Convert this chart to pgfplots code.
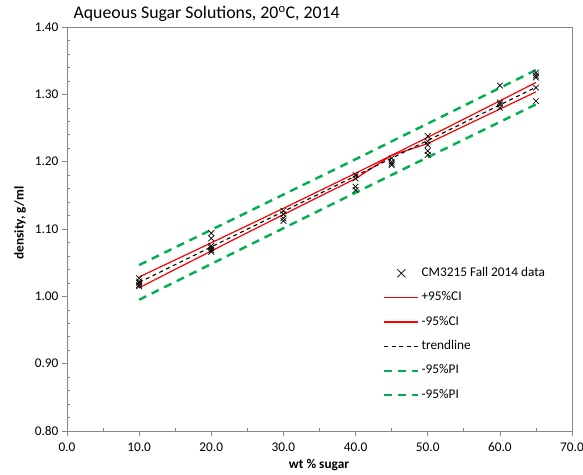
\documentclass[border=0pt]{standalone}
\usepackage{fontspec}
\setmainfont{Carlito}
\usepackage{pgfplots}
\pgfplotsset{compat=1.18}
\definecolor{pigreen}{RGB}{0,176,80}
\definecolor{cired}{RGB}{255,0,0}
\definecolor{axgray}{RGB}{134,134,134}
\pgfplotsset{
  marklegend/.style={legend image code/.code={\draw[black, line width=0.7pt] (13pt,-4pt) -- (21pt,4pt) (13pt,4pt) -- (21pt,-4pt);}},
  redlegend/.style={legend image code/.code={\draw[cired, line width=1.2pt] (0pt,0pt) -- (34pt,0pt);}},
  trendlegend/.style={legend image code/.code={\draw[black, line width=1.1pt, dash pattern=on 4pt off 3.5pt] (0pt,0pt) -- (34pt,0pt);}},
  greenlegend/.style={legend image code/.code={\draw[pigreen, line width=2.4pt, dash pattern=on 8pt off 6pt] (0pt,0pt) -- (34pt,0pt);}}}
\begin{document}
\begin{tikzpicture}[font=\fontsize{13.3}{15}\selectfont]
\begin{axis}[
  scale only axis, width=505pt, height=404pt,
  at={(0pt,0pt)}, anchor=south west,
  xmin=0, xmax=70, ymin=0.8, ymax=1.4,
  xtick={0,10,20,30,40,50,60,70},
  ytick={0.8,0.9,1.0,1.1,1.2,1.3,1.4},
  minor x tick num=1, minor y tick num=4,
  xtick pos=bottom, ytick pos=left,
  tick align=inside,
  major tick length=5pt, minor tick length=3pt,
  major y tick style={xshift=-5pt},
  major x tick style={yshift=-5pt},
  axis line style={axgray}, tick style={axgray, line width=0.6pt},
  xticklabel style={/pgf/number format/fixed, /pgf/number format/fixed zerofill, /pgf/number format/precision=1, /pgf/number format/assume math mode=true, yshift=-8pt},
  yticklabel style={/pgf/number format/fixed, /pgf/number format/fixed zerofill, /pgf/number format/precision=2, /pgf/number format/assume math mode=true, xshift=-5pt},
  legend style={at={(axis cs:43.8,1.045)}, anchor=north west, draw=none, fill=none,
     inner sep=0pt, row sep=10.4pt,
     nodes={text height=8pt, text depth=2pt, inner sep=2pt, font=\fontsize{13.3}{15}\selectfont}},
  legend cell align=left,
]
\addplot[marklegend, only marks, mark=x, mark size=4pt, black, mark options={line width=0.7pt}]
coordinates {
(10,1.027) (10,1.022) (10,1.020) (10,1.017) (10,1.015)
(20,1.094) (20,1.086) (20,1.075) (20,1.072) (20,1.069) (20,1.066)
(30,1.127) (30,1.122) (30,1.116) (30,1.112)
(40,1.180) (40,1.175) (40,1.163) (40,1.158)
(45,1.205) (45,1.200) (45,1.197) (45,1.195)
(50,1.238) (50,1.230) (50,1.225) (50,1.216) (50,1.210)
(60,1.313) (60,1.288) (60,1.285) (60,1.280)
(65,1.332) (65,1.328) (65,1.325) (65,1.310) (65,1.290)
};
\addlegendentry{CM3215 Fall 2014 data}
\addplot[redlegend, cired, line width=1.2pt, no marks] coordinates {
(10,1.0287) (15,1.0541) (20,1.0795) (25,1.1051) (30,1.1307) (35,1.1567) (40,1.1828)
(45,1.2094) (50,1.2361) (55,1.2632) (60,1.2903) (65,1.3176)};
\addlegendentry{+95\%CI}
\addplot[redlegend, cired, line width=1.2pt, no marks] coordinates {
(10,1.0127) (15,1.0401) (20,1.0673) (25,1.0945) (30,1.1215) (35,1.1483) (40,1.1748)
(45,1.2094) (50,1.2269) (55,1.2526) (60,1.2781) (65,1.3036)};
\addlegendentry{-95\%CI}
\addplot[trendlegend, black, line width=1.1pt, dash pattern=on 4pt off 3.5pt, no marks] coordinates {
(10,1.0207) (65,1.3106)};
\addlegendentry{trendline}
\addplot[greenlegend, pigreen, line width=2.4pt, dash pattern=on 8pt off 6pt, no marks] coordinates {
(10,1.0465) (25,1.1249) (40,1.2036) (55,1.2830) (65,1.3361)};
\addlegendentry{-95\%PI}
\addplot[greenlegend, pigreen, line width=2.4pt, dash pattern=on 8pt off 6pt, no marks] coordinates {
(10,0.9949) (25,1.0747) (40,1.1540) (55,1.2328) (65,1.2851)};
\addlegendentry{-95\%PI}
\end{axis}
\node[anchor=west, font=\fontsize{17.8}{20}\selectfont] at (3pt,417pt) {Aqueous Sugar Solutions, 20\textsuperscript{o}C, 2014};
\node[rotate=90, font=\fontsize{13.3}{15}\selectfont\bfseries] at (-47pt,208pt) {density, g/ml};
\node[font=\fontsize{13.3}{15}\selectfont\bfseries] at (252pt,-34pt) {wt \% sugar};
\pgfresetboundingbox
\path[use as bounding box] (-67pt,-43pt) rectangle (516pt,431pt);
\end{tikzpicture}
\end{document}
